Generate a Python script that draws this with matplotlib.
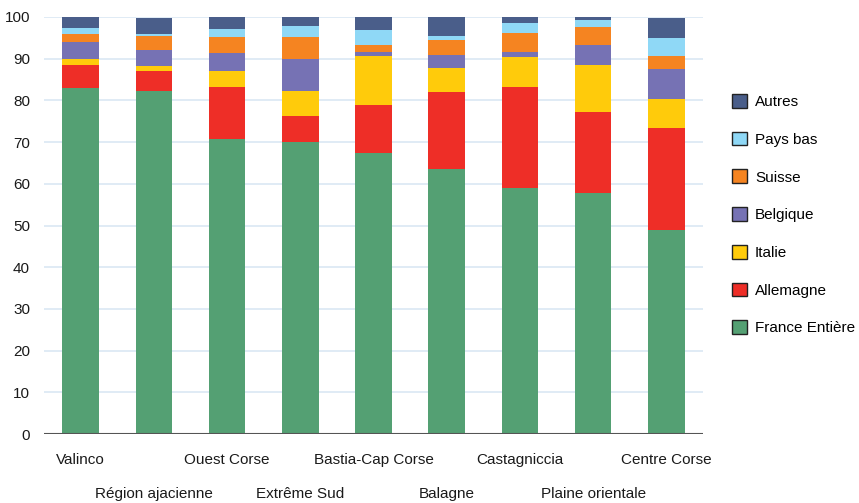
import matplotlib
matplotlib.use("Agg")
import matplotlib.pyplot as plt
import numpy as np
from matplotlib.patches import Patch

plt.rcParams["font.family"] = ["Liberation Sans", "DejaVu Sans"]

regions = ["Valinco", "Région ajacienne", "Ouest Corse", "Extrême Sud",
           "Bastia-Cap Corse", "Balagne", "Castagniccia", "Plaine orientale",
           "Centre Corse"]

france = [83.0, 82.3, 70.7, 70.0, 67.4, 63.5, 59.0, 57.8, 48.9]
allemagne = [5.5, 4.8, 12.5, 6.3, 11.5, 18.5, 24.2, 19.4, 24.5]
italie = [1.4, 1.2, 3.9, 6.0, 11.7, 5.8, 7.2, 11.3, 6.9]
belgique = [4.2, 3.8, 4.3, 7.6, 1.0, 3.1, 1.2, 4.8, 7.2]
suisse = [1.8, 3.3, 3.8, 5.3, 1.7, 3.6, 4.6, 4.3, 3.1]
pays_bas = [1.5, 0.5, 1.9, 2.6, 3.6, 0.9, 2.4, 1.7, 4.4]
autres = [2.6, 3.9, 2.9, 2.2, 3.1, 4.6, 1.4, 0.7, 4.8]

series = [
    ("France Entière", france, "#54a073"),
    ("Allemagne", allemagne, "#ee2e27"),
    ("Italie", italie, "#ffcb0b"),
    ("Belgique", belgique, "#7672b4"),
    ("Suisse", suisse, "#f58421"),
    ("Pays bas", pays_bas, "#8fd8f6"),
    ("Autres", autres, "#4a5e8a"),
]

fig = plt.figure(figsize=(8.59, 5.03), dpi=100)
ax = fig.add_axes([44 / 859, 69 / 503, 659 / 859, 417 / 503])

x = np.arange(len(regions))
bottom = np.zeros(len(regions))
for name, vals, col in series:
    ax.bar(x, vals, width=0.5, bottom=bottom, color=col, zorder=2)
    bottom += np.array(vals)

ax.set_xlim(-0.5, len(regions) - 0.5)
ax.set_ylim(0, 100)
ax.set_yticks(range(0, 101, 10))
ax.grid(axis="y", color="#dde9f4", linewidth=1.3, zorder=0)
ax.axhline(0, color="#555555", linewidth=1.5, zorder=3)

for s in ax.spines.values():
    s.set_visible(False)

ax.tick_params(axis="y", length=0, pad=10, labelsize=11, labelcolor="#1a1a1a")
ax.tick_params(axis="x", length=0, labelsize=11, labelcolor="#1a1a1a")
ax.set_xticks(x)
ax.set_xticklabels(regions)
for i, t in enumerate(ax.xaxis.get_major_ticks()):
    t.set_pad(14 if i % 2 == 0 else 38)

handles = [Patch(facecolor=col, edgecolor="#222222", linewidth=1.0, label=name)
           for name, vals, col in reversed(series)]
fig.legend(handles=handles, loc="upper left", bbox_to_anchor=(726 / 859, 1 - 88 / 503),
           frameon=False, fontsize=11, handlelength=1.0, handleheight=1.0,
           handletextpad=0.5, labelspacing=1.48, borderaxespad=0)

fig.savefig("out.png", dpi=100)
